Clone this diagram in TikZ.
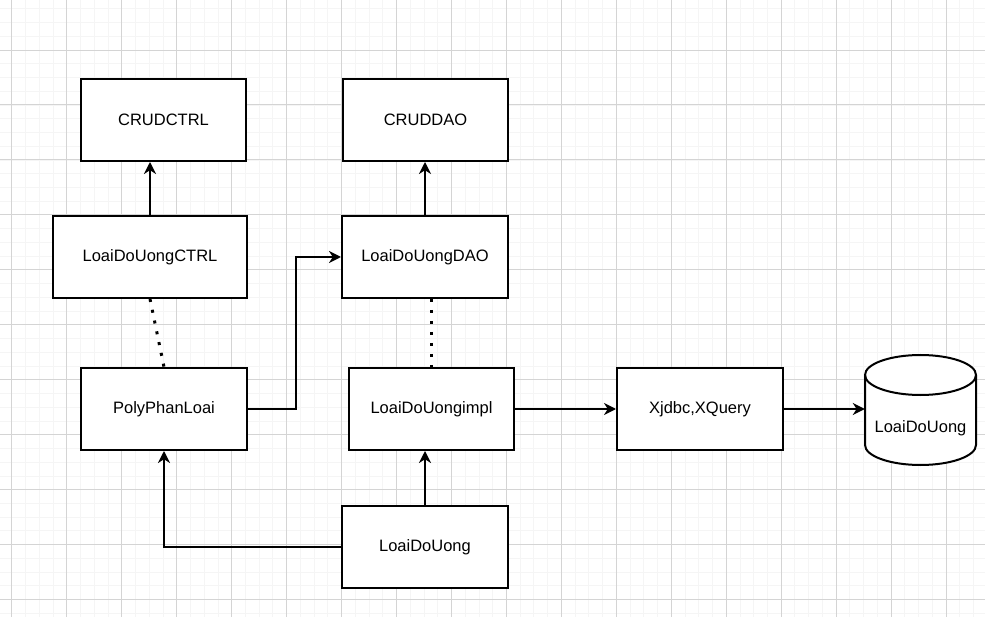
\documentclass[tikz,border=0pt]{standalone}
\usepackage{fontspec}
\setmainfont{Liberation Sans}
\usetikzlibrary{arrows.meta,calc}
\begin{document}
\begin{tikzpicture}[x=1pt,y=-1pt,
  box/.style={draw=black,line width=2pt,fill=white,minimum width=#1,minimum height=82pt,inner sep=0pt,font=\fontsize{16.5}{20}\selectfont},
  box/.default=165pt,
  conn/.style={line width=2pt,-{Stealth[length=12pt,width=12pt,inset=3.8pt]}},
  dotline/.style={line width=3pt,dash pattern=on 3pt off 8pt},
  minorgrid/.style={draw=black!4,line width=0.7pt},
  majorgrid/.style={draw=black!17,line width=0.9pt}]
\useasboundingbox (0,0) rectangle (985,617);
\fill[white] (0,0) rectangle (985,617);
% grid
\foreach \i in {0,...,72} {\draw[minorgrid] ({-1.94+\i*13.7375},0) -- ++(0,617);}
\foreach \i in {0,...,46} {\draw[minorgrid] (0,{-4.95+\i*13.7375}) -- ++(985,0);}
\foreach \i in {0,...,18} {\draw[majorgrid] ({11.8+\i*54.95},0) -- ++(0,617);}
\foreach \i in {0,...,12} {\draw[majorgrid] (0,{-4.95+\i*54.95}) -- ++(985,0);}
% boxes
\node[box] (crudctrl) at (163.5,120) {CRUDCTRL};
\node[box] (cruddao) at (425.5,120) {CRUDDAO};
\node[box=194pt] (ctrl) at (150,257) {LoaiDoUongCTRL};
\node[box=166pt] (dao) at (425,257) {LoaiDoUongDAO};
\node[box=166pt] (poly) at (164,409) {PolyPhanLoai};
\node[box] (impl) at (431.5,409) {LoaiDoUongimpl};
\node[box=166pt] (xj) at (700,409) {Xjdbc,XQuery};
\node[box=166pt] (ldu) at (425,547) {LoaiDoUong};
% cylinder
\filldraw[fill=white,draw=black,line width=2pt] (865,375) -- (865,445)
  arc[start angle=180,end angle=360,x radius=55.5pt,y radius=20pt] -- (976,375)
  arc[start angle=0,end angle=180,x radius=55.5pt,y radius=20pt] -- cycle;
\draw[line width=2pt] (865,375) arc[start angle=180,end angle=360,x radius=55.5pt,y radius=20pt];
\node[minimum width=111pt,minimum height=110pt,inner sep=0pt] (cyl) at (920.5,410) {};
\node[font=\fontsize{16.5}{20}\selectfont] (cyltext) at (920.5,428) {LoaiDoUong};
% connectors
\draw[conn] (ctrl.north) -- (ctrl.north |- crudctrl.south);
\draw[conn] (dao.north) -- (dao.north |- cruddao.south);
\draw[dotline] (ctrl.south) -- (poly.north);
\draw[dotline] (impl.north |- dao.south) -- (impl.north);
\draw[conn] (poly.east) -- ++(48,0) |- (dao.west);
\draw[conn] (impl.east) -- (xj.west |- impl.east);
\draw[conn] (xj.east) -- (cyl.west |- xj.east);
\draw[conn] (ldu.north) -- (ldu.north |- impl.south);
\draw[conn] (ldu.west) -| (poly.south);
\end{tikzpicture}
\end{document}
